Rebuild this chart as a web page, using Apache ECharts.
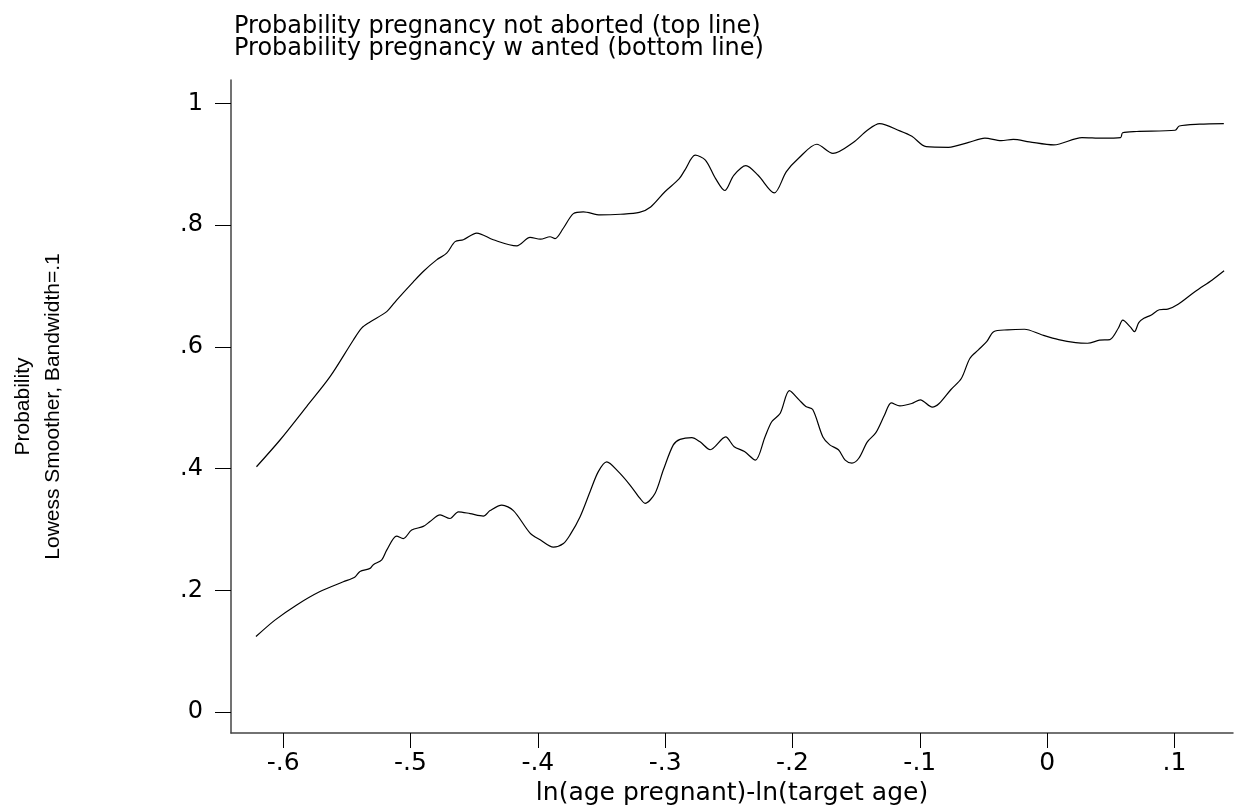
<!DOCTYPE html>
<html>
<head>
<meta charset="utf-8">
<title>Lowess smoother</title>
<script src="https://cdn.jsdelivr.net/npm/echarts@6.0.0/dist/echarts.min.js"></script>
<style>
    html, body { margin: 0; padding: 0; background: #fff; }
    #chart { width: 1235px; height: 807px; }
</style>
</head>
<body>
<div id="chart"></div>
<script>
// tick values
const xTicks = [-0.6, -0.5, -0.4, -0.3, -0.2, -0.1, 0, 0.1];
const yTicks = [0, 0.2, 0.4, 0.6, 0.8, 1];

// top line: not aborted
const topX = [-0.621, -0.6025, -0.5816, -0.5632, -0.545, -0.5384, -0.5318, -0.5187, -0.5109, -0.4978,
    -0.49, -0.4795, -0.4716, -0.465, -0.4585, -0.448, -0.435, -0.4166, -0.4061, -0.398,
    -0.3904, -0.3865, -0.38, -0.3721, -0.3643, -0.3511, -0.3352, -0.3203, -0.3114, -0.3002,
    -0.2891, -0.2844, -0.2764, -0.2684, -0.2605, -0.2532, -0.2461, -0.2366, -0.227, -0.2143,
    -0.2048, -0.1952, -0.1809, -0.1682, -0.1523, -0.1412, -0.1316, -0.1157, -0.1062, -0.095,
    -0.0775, -0.0616, -0.0489, -0.0361, -0.0266, -0.0139, 0.0052, 0.0274, 0.0434, 0.0577,
    0.0593, 0.0704, 0.1006, 0.1038, 0.1197, 0.1388];
const topY = [0.403, 0.447, 0.502, 0.551, 0.611, 0.631, 0.641, 0.658, 0.677, 0.707,
    0.724, 0.743, 0.754, 0.773, 0.776, 0.787, 0.776, 0.766, 0.780, 0.777,
    0.781, 0.778, 0.795, 0.819, 0.822, 0.817, 0.818, 0.821, 0.830, 0.855,
    0.876, 0.891, 0.915, 0.907, 0.877, 0.857, 0.882, 0.898, 0.882, 0.853,
    0.888, 0.910, 0.933, 0.918, 0.936, 0.956, 0.967, 0.955, 0.946, 0.929,
    0.928, 0.936, 0.943, 0.939, 0.941, 0.937, 0.932, 0.944, 0.943, 0.944,
    0.952, 0.954, 0.956, 0.963, 0.966, 0.967];

// bottom line: wanted
const bottomX = [-0.6214, -0.6065, -0.5894, -0.5711, -0.5528, -0.5436, -0.5397, -0.5318, -0.5292, -0.5226,
    -0.5187, -0.5109, -0.5057, -0.4991, -0.49, -0.4847, -0.4768, -0.469, -0.4624, -0.4532,
    -0.4428, -0.4375, -0.4283, -0.4192, -0.4061, -0.3982, -0.3878, -0.3799, -0.3747, -0.3668,
    -0.359, -0.3525, -0.3459, -0.3368, -0.3276, -0.3197, -0.3158, -0.308, -0.3014, -0.2936,
    -0.2883, -0.2791, -0.2726, -0.2646, -0.2525, -0.2458, -0.2377, -0.2291, -0.2216, -0.2163,
    -0.2096, -0.2024, -0.1948, -0.1895, -0.1841, -0.1761, -0.1707, -0.1639, -0.1586, -0.1533,
    -0.1479, -0.1412, -0.1345, -0.1277, -0.1224, -0.1157, -0.1063, -0.0996, -0.0902, -0.0848,
    -0.0755, -0.0674, -0.0607, -0.054, -0.0473, -0.042, -0.0312, -0.0178, -0.0044, 0.009,
    0.0224, 0.0318, 0.0412, 0.0493, 0.056, 0.0594, 0.0653, 0.0686, 0.072, 0.076,
    0.0815, 0.0881, 0.0948, 0.1029, 0.1163, 0.1297, 0.139];
const bottomY = [0.124, 0.151, 0.176, 0.198, 0.214, 0.222, 0.231, 0.236, 0.242, 0.250,
    0.266, 0.289, 0.285, 0.299, 0.305, 0.313, 0.324, 0.318, 0.329, 0.326,
    0.322, 0.331, 0.340, 0.331, 0.294, 0.283, 0.271, 0.277, 0.291, 0.321,
    0.362, 0.395, 0.411, 0.395, 0.373, 0.351, 0.343, 0.359, 0.398, 0.439,
    0.448, 0.451, 0.444, 0.431, 0.452, 0.436, 0.428, 0.414, 0.452, 0.477,
    0.491, 0.528, 0.513, 0.502, 0.497, 0.452, 0.439, 0.431, 0.414, 0.409,
    0.417, 0.444, 0.459, 0.488, 0.508, 0.503, 0.507, 0.513, 0.501, 0.507,
    0.530, 0.548, 0.581, 0.595, 0.609, 0.625, 0.628, 0.629, 0.620, 0.612,
    0.607, 0.606, 0.611, 0.612, 0.631, 0.644, 0.633, 0.625, 0.640, 0.647,
    0.652, 0.661, 0.662, 0.670, 0.691, 0.710, 0.725];

// zip x and y into [x, y] pairs
function toPairs(xs, ys) {
    return xs.map(function(x, i) {
        return [x, ys[i]];
    });
}

// Stata style label: -.6, .2, 0, 1
function stataLabel(v) {
    let s = (Math.round(v * 10) / 10).toString();
    return s.replace('0.', '.');
}

const font = 'DejaVu Sans, sans-serif';
const nameFont = 'Liberation Sans, Arial, sans-serif';

const option = {
    animation: false,
    backgroundColor: '#fff',
    title: {
        text: 'Probability pregnancy not aborted (top line)\nProbability pregnancy w anted (bottom line)',
        left: 229,
        top: 11,
        textStyle: {
            fontFamily: font,
            fontSize: 24,
            fontWeight: 'normal',
            color: '#000',
            lineHeight: 22
        }
    },
    grid: {
        left: 231,
        right: 2,
        top: 80,
        bottom: 74,
        containLabel: false,
        outerBoundsMode: 'none'
    },
    xAxis: {
        type: 'value',
        min: -0.641,
        max: 0.146,
        name: 'ln(age pregnant)-ln(target age)',
        nameLocation: 'middle',
        nameGap: 36,
        nameTextStyle: { fontFamily: font, fontSize: 25, color: '#000' },
        splitLine: { show: false },
        axisLine: { show: true, onZero: false, lineStyle: { color: '#444', width: 1.5 } },
        axisTick: { show: true, length: 15, customValues: xTicks, lineStyle: { color: '#000', width: 1 } },
        axisLabel: {
            customValues: xTicks,
            margin: 18,
            fontFamily: font,
            fontSize: 25,
            color: '#000',
            formatter: stataLabel
        }
    },
    yAxis: {
        type: 'value',
        min: -0.0345,
        max: 1.0386,
        name: 'Probability\nLowess Smoother, Bandwidth=.1',
        nameLocation: 'middle',
        nameRotate: 90,
        nameGap: 163,
        nameTextStyle: { fontFamily: nameFont, fontSize: 21, color: '#000', lineHeight: 30 },
        splitLine: { show: false },
        axisLine: { show: true, onZero: false, lineStyle: { color: '#444', width: 1.5 } },
        axisTick: { show: true, length: 16, customValues: yTicks, lineStyle: { color: '#000', width: 1 } },
        axisLabel: {
            customValues: yTicks,
            margin: 28,
            fontFamily: font,
            fontSize: 24,
            color: '#000',
            formatter: stataLabel
        }
    },
    series: [
        {
            name: 'not aborted',
            type: 'line',
            data: toPairs(topX, topY),
            showSymbol: false,
            smooth: 0.3,
            lineStyle: { color: '#000', width: 1.2 }
        },
        {
            name: 'wanted',
            type: 'line',
            data: toPairs(bottomX, bottomY),
            showSymbol: false,
            smooth: 0.3,
            lineStyle: { color: '#000', width: 1.2 }
        }
    ]
};

let myChart = echarts.init(document.getElementById('chart'));
myChart.setOption(option);
</script>
</body>
</html>
